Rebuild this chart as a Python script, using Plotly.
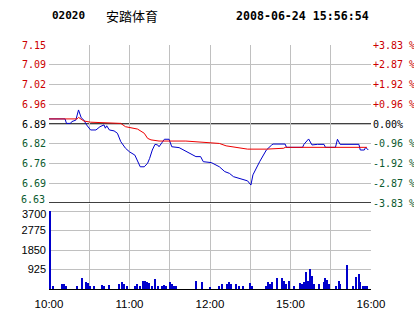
import plotly.graph_objects as go

# ---- data ----
price_min = [0, 12, 13, 16, 17, 20, 22, 23, 24, 26, 28, 31, 35, 38, 41, 42, 43, 45, 48.5, 51,
             53.5, 57, 60, 64, 66.5, 68, 71, 73.5, 75, 77, 79, 81, 82, 86, 89.5, 91.5, 97, 104.5, 109.5, 113,
             115, 121, 127, 131, 134.5, 137.5, 142, 148, 150.5, 152, 157, 162, 166, 167, 176, 177, 189, 190, 193.5, 196,
             200, 205, 206, 213.5, 215, 217, 231, 232, 235, 236, 238]
price = [6.907, 6.907, 6.892, 6.892, 6.898, 6.903, 6.937, 6.926, 6.911, 6.903,
         6.887, 6.870, 6.870, 6.881, 6.887, 6.876, 6.884, 6.870, 6.867, 6.859,
         6.831, 6.809, 6.797, 6.786, 6.764, 6.747, 6.747, 6.759, 6.775, 6.803,
         6.822, 6.820, 6.814, 6.839, 6.839, 6.814, 6.811, 6.794, 6.781, 6.781,
         6.764, 6.761, 6.747, 6.731, 6.725, 6.714, 6.709, 6.700, 6.686, 6.720,
         6.764, 6.803, 6.820, 6.823, 6.823, 6.812, 6.812, 6.822, 6.840, 6.820,
         6.822, 6.822, 6.812, 6.812, 6.839, 6.822, 6.822, 6.803, 6.803, 6.812, 6.803]

avg_min = [0, 21, 22, 26, 31, 42, 53.5, 57, 66, 71, 73.5, 76, 82, 102, 109.5, 127, 132, 139.5, 148, 162, 175, 176, 237]
avg = [6.907, 6.907, 6.912, 6.900, 6.896, 6.894, 6.892, 6.881, 6.873, 6.859, 6.842, 6.837,
       6.833, 6.833, 6.831, 6.825, 6.817, 6.812, 6.806, 6.806, 6.809, 6.812, 6.812]

vol_min = [0.5, 3, 10, 11, 13, 21, 25, 27.5, 29.5, 31, 34, 39.5, 41, 44.5, 52.5, 54.5, 56, 58, 64.5, 66,
           68, 70, 71.5, 73, 75, 77, 79.5, 81, 84, 86, 87.5, 90, 92, 93, 95, 109.5, 114.5, 120, 127, 129,
           133, 134, 135.5, 139.5, 142, 145, 150, 151.5, 162, 163.5, 165, 166.5, 170, 174, 175, 176.5, 179, 183, 187, 189,
           190, 192, 193.5, 195, 196.5, 198, 201, 205, 206, 207, 208.5, 214, 216, 217, 222, 226.5, 229, 231, 232, 234,
           235.5, 237]
volume = [3700, 165, 215, 215, 165, 120, 510, 320, 275, 165, 120, 200, 140, 200, 245, 355, 245, 120, 165, 215,
          165, 370, 400, 320, 275, 120, 485, 165, 165, 200, 120, 320, 245, 165, 120, 370, 320, 85, 165, 245,
          245, 320, 215, 245, 120, 120, 275, 165, 120, 355, 245, 320, 510, 530, 370, 245, 400, 120, 275, 215,
          320, 795, 400, 960, 640, 245, 245, 320, 530, 435, 245, 165, 400, 245, 1115, 120, 580, 690, 320, 165,
          120, 165]

price_ticks = [6.626, 6.692, 6.758, 6.824, 6.89, 6.956, 7.022, 7.088, 7.154]
price_labels = ["6.63", "6.69", "6.76", "6.82", "6.89", "6.96", "7.02", "7.09", "7.15"]
pct_labels = ["-3.83 %", "-2.87 %", "-1.92 %", "-0.96 %", "0.00%", "+0.96 %", "+1.92 %", "+2.87 %", "+3.83 %"]
vol_ticks = [925, 1850, 2775, 3700]
vol_labels = ["925", "1850", "2775", "3700"]
time_ticks = [0, 30, 60, 90, 120, 150, 180, 210, 240]
time_labels = ["10:00", "", "11:00", "", "12:00", "", "15:00", "", "16:00"]

PREV = 6.89
RED = "#cc0000"
GREEN = "#0b5a2e"
GRID = "#c0c0c0"


def color_of(v):
    return RED if v > PREV + 1e-9 else (GREEN if v < PREV - 1e-9 else "#000000")


def colored(labels, ticks, skip=()):
    out = []
    for i, (lab, v) in enumerate(zip(labels, ticks)):
        if i in skip:
            out.append("")
        else:
            out.append(f'<span style="color:{color_of(v)}">{lab}</span>')
    return out


fig = go.Figure()
fig.add_trace(go.Scatter(x=price_min, y=price, mode="lines", line=dict(color="#0000cc", width=1),
                         xaxis="x", yaxis="y", hoverinfo="skip"))
fig.add_trace(go.Scatter(x=avg_min, y=avg, mode="lines", line=dict(color="#ee0000", width=1),
                         xaxis="x", yaxis="y", hoverinfo="skip"))
fig.add_trace(go.Bar(x=vol_min, y=volume, width=1, marker=dict(color="#0000cc", line=dict(width=0)),
                     xaxis="x2", yaxis="y2", hoverinfo="skip"))
fig.add_trace(go.Scatter(x=[None], y=[None], xaxis="x", yaxis="y3", showlegend=False))

W, H = 414, 314
L, R, T, B = 49, 43, 45, 25
PH = H - T - B

fig.update_layout(
    width=W, height=H,
    margin=dict(l=L, r=R, t=T, b=B, pad=0, autoexpand=False),
    paper_bgcolor="white", plot_bgcolor="white",
    showlegend=False,
    bargap=0,
    xaxis=dict(domain=[0, 1], range=[0, 240], anchor="y", tickvals=time_ticks, showticklabels=False,
               showgrid=True, gridcolor=GRID, gridwidth=1, zeroline=False, ticks="", showline=False,
               automargin=False),
    xaxis2=dict(domain=[0, 1], range=[0, 240], anchor="y2", tickvals=time_ticks, ticktext=time_labels,
                showgrid=True, gridcolor=GRID, gridwidth=1, zeroline=False, ticks="",
                ticklabelstandoff=4, automargin=False,
                tickfont=dict(family="Liberation Sans", size=11.5, color="#000000"),
                showline=True, linecolor="#000000", linewidth=1),
    yaxis=dict(domain=[(289 - 203) / PH, 1], range=[price_ticks[0], price_ticks[-1]], anchor="x",
               tickvals=price_ticks, ticktext=colored(price_labels, price_ticks, skip=(0,)),
               showgrid=True, gridcolor=GRID, gridwidth=1, zeroline=False, ticks="",
               ticklabelstandoff=2, automargin=False,
               tickfont=dict(family="DejaVu Sans Mono", size=10)),
    yaxis3=dict(overlaying="y", side="right", range=[price_ticks[0], price_ticks[-1]], anchor="x",
                tickvals=price_ticks, ticktext=colored(pct_labels, price_ticks),
                showgrid=False, zeroline=False, ticks="", ticklabelstandoff=1, automargin=False,
                tickfont=dict(family="DejaVu Sans Mono", size=10)),
    yaxis2=dict(domain=[0, (289 - 204) / PH], range=[0, 3700 * 85 / 78], anchor="x2",
                tickvals=vol_ticks, ticktext=vol_labels[:-1] + [""],
                showgrid=True, gridcolor=GRID, gridwidth=1, zeroline=False, ticks="",
                ticklabelstandoff=2, automargin=False,
                tickfont=dict(family="Liberation Sans", size=11, color="#000000")),
)

# labels nudged apart where the two panels meet (as in the reference)
fig.add_annotation(x=0, y=price_ticks[0], xref="x domain", yref="y", text=price_labels[0], showarrow=False,
                   xanchor="right", yanchor="middle", xshift=-2, yshift=4,
                   font=dict(family="DejaVu Sans Mono", size=10, color=color_of(price_ticks[0])))
fig.add_annotation(x=0, y=vol_ticks[-1], xref="x2 domain", yref="y2", text=vol_labels[-1], showarrow=False,
                   xanchor="right", yanchor="middle", xshift=-1, yshift=-3,
                   font=dict(family="Liberation Sans", size=11, color="#000000"))

# previous close line and bottom of price panel
fig.add_shape(type="line", xref="x domain", yref="y", x0=0, x1=1, y0=PREV, y1=PREV,
              line=dict(color="#000000", width=1.3), layer="below")
fig.add_shape(type="line", xref="x domain", yref="y", x0=0, x1=1, y0=price_ticks[0], y1=price_ticks[0],
              line=dict(color="#000000", width=1.3), layer="above")


def py(px):
    return (H - B - px) / PH


def pxx(px):
    return (px - L) / (W - L - R)


fig.add_annotation(x=pxx(50), y=py(16), xref="paper", yref="paper", text="<b>02020</b>", showarrow=False,
                   xanchor="left", yanchor="middle", font=dict(family="DejaVu Sans Mono", size=11, color="#000"))
fig.add_annotation(x=pxx(104), y=py(16), xref="paper", yref="paper", text="安踏体育", showarrow=False,
                   xanchor="left", yanchor="middle", font=dict(family="Noto Sans CJK SC", size=13, color="#000"))
fig.add_annotation(x=pxx(371), y=py(16), xref="paper", yref="paper", text="<b>2008-06-24 15:56:54</b>",
                   showarrow=False, xanchor="right", yanchor="middle",
                   font=dict(family="DejaVu Sans Mono", size=11.6, color="#000"))

fig.write_html("out.html")
